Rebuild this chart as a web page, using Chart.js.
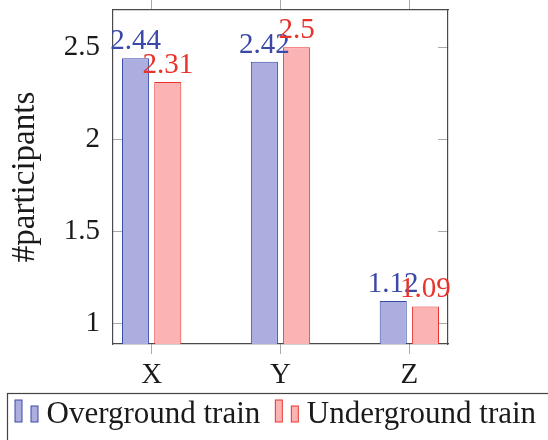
<!DOCTYPE html>
<html>
<head>
<meta charset="utf-8">
<script src="https://cdn.jsdelivr.net/npm/chart.js@4"></script>
<style>
  html, body { margin: 0; padding: 0; background: #fff; }
</style>
</head>
<body>
<canvas id="grafico" width="548" height="440"></canvas>
<script>
const categories = ['X', 'Y', 'Z'];
const overground = [2.44, 2.42, 1.12];
const underground = [2.31, 2.5, 1.09];
const seriesNames = ['Overground train', 'Underground train'];
const yTicks = [1, 1.5, 2, 2.5];

const blueLine = '#3a49a8';
const blueFill = '#adaee0';
const redLine = '#e8332c';
const redFill = '#fbb3b3';

// little two-bar icon for the legend, like pgfplots does
function legendIcon(fill, line) {
    const c = document.createElement('canvas');
    c.width = 48;
    c.height = 40;
    const g = c.getContext('2d');
    g.fillStyle = fill;
    g.strokeStyle = line;
    g.lineWidth = 1;
    g.fillRect(20.5, 5.5, 7, 22);
    g.strokeRect(20.5, 5.5, 7, 22);
    g.fillRect(36.5, 11.5, 7, 16);
    g.strokeRect(36.5, 11.5, 7, 16);
    return c;
}
const icons = [legendIcon(blueFill, blueLine), legendIcon(redFill, redLine)];

const toPoints = (vals) => vals.map((v, i) => ({ x: i, y: v }));

// values written above the bars
const valueLabels = {
    id: 'valueLabels',
    afterDatasetsDraw(chart) {
        const ctx = chart.ctx;
        ctx.save();
        ctx.font = "29px 'Liberation Serif', serif";
        ctx.textAlign = 'center';
        ctx.textBaseline = 'alphabetic';
        chart.data.datasets.forEach((ds, di) => {
            const meta = chart.getDatasetMeta(di);
            ctx.fillStyle = ds.borderColor;
            meta.data.forEach((bar, i) => {
                ctx.fillText(String(ds.data[i].y), bar.x, bar.y - 9);
            });
        });
        ctx.restore();
    }
};

// frame round the legend
const legendFrame = {
    id: 'legendFrame',
    afterDraw(chart) {
        const lg = chart.legend;
        const ctx = chart.ctx;
        ctx.save();
        ctx.strokeStyle = '#444';
        ctx.lineWidth = 1.2;
        ctx.strokeRect(7.5, lg.top + 0.5, 600, 200);
        ctx.restore();
    }
};

const yMin = 0.886;
const yMax = 2.702;
const xMin = -0.3;
const xMax = 2.3;
const fixTicks = (scale, vals) => { scale.ticks = vals.map(v => ({ value: v })); };
const noPad = (s) => { s.paddingTop = 0; s.paddingBottom = 0; s.paddingLeft = 0; s.paddingRight = 0; };

Chart.defaults.font.family = "'Liberation Serif', serif";
Chart.defaults.font.size = 29;
Chart.defaults.color = '#1a1a1a';

const ctx = document.getElementById('grafico');

new Chart(ctx, {
    type: 'bar',
    data: {
        datasets: [{
            label: seriesNames[0],
            data: toPoints(overground),
            backgroundColor: blueFill,
            borderColor: blueLine,
            borderWidth: 1
        }, {
            label: seriesNames[1],
            data: toPoints(underground),
            backgroundColor: redFill,
            borderColor: redLine,
            borderWidth: 1
        }]
    },
    options: {
        responsive: false,
        animation: false,
        layout: { padding: 0 },
        datasets: {
            bar: { categoryPercentage: 0.5, barPercentage: 0.84 }
        },
        plugins: {
            tooltip: { enabled: false },
            legend: {
                position: 'bottom',
                align: 'start',
                labels: {
                    usePointStyle: true,
                    pointStyleWidth: 25,
                    padding: 6,
                    color: '#1a1a1a',
                    font: { size: 31 },
                    generateLabels(chart) {
                        const items = Chart.defaults.plugins.legend.labels.generateLabels(chart);
                        items.forEach((it, i) => { it.pointStyle = icons[i]; });
                        return items;
                    }
                }
            }
        },
        scales: {
            x: {
                type: 'linear',
                position: 'bottom',
                offset: false,
                min: xMin,
                max: xMax,
                afterBuildTicks: (s) => fixTicks(s, [0, 1, 2]),
                afterFit: (s) => { s.height = 49; noPad(s); },
                ticks: {
                    padding: 4,
                    maxRotation: 0,
                    callback: (v) => categories[v]
                },
                grid: { offset: false, drawOnChartArea: false, tickLength: 10, color: '#aaa' },
                border: { color: '#4a4a4a', width: 1.2 }
            },
            x2: {
                type: 'linear',
                position: 'top',
                offset: false,
                min: xMin,
                max: xMax,
                afterBuildTicks: (s) => fixTicks(s, [0, 1, 2]),
                afterFit: (s) => { s.height = 10; noPad(s); },
                ticks: { display: false },
                grid: { offset: false, drawOnChartArea: false, tickLength: 10, color: '#aaa' },
                border: { color: '#4a4a4a', width: 1.2 }
            },
            y: {
                position: 'left',
                min: yMin,
                max: yMax,
                afterBuildTicks: (s) => fixTicks(s, yTicks),
                afterFit: (s) => { s.width = 113; noPad(s); },
                ticks: { padding: 23, callback: (v) => String(v) },
                grid: { drawOnChartArea: false, tickLength: -10, color: '#aaa' },
                border: { color: '#4a4a4a', width: 1.2 },
                title: {
                    display: true,
                    text: '#participants',
                    padding: { top: 6, bottom: 0 },
                    font: { size: 33 }
                }
            },
            y2: {
                position: 'right',
                min: yMin,
                max: yMax,
                afterBuildTicks: (s) => fixTicks(s, yTicks),
                afterFit: (s) => { s.width = 100; noPad(s); },
                ticks: { display: false },
                grid: { drawOnChartArea: false, tickLength: -10, color: '#aaa' },
                border: { color: '#4a4a4a', width: 1.2 }
            }
        }
    },
    plugins: [valueLabels, legendFrame]
});
</script>
</body>
</html>
